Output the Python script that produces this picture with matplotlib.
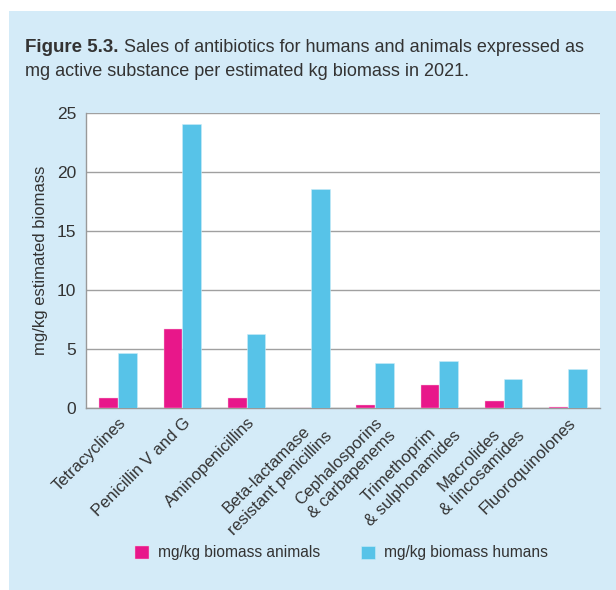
import numpy as np
import matplotlib.pyplot as plt
from matplotlib.patches import Rectangle

plt.rcParams['font.family'] = ['Liberation Sans', 'DejaVu Sans']

categories = ["Tetracyclines", "Penicillin V and G", "Aminopenicillins",
              "Beta-lactamase\nresistant penicillins", "Cephalosporins\n& carbapenems",
              "Trimethoprim\n& sulphonamides", "Macrolides\n& lincosamides",
              "Fluoroquinolones"]
animals = [0.87, 6.67, 0.87, 0.0, 0.23, 1.94, 0.56, 0.11]
humans = [4.63, 24.1, 6.24, 18.6, 3.85, 3.96, 2.47, 3.31]
yticks = [0, 5, 10, 15, 20, 25]

pink = '#e8178a'
blue = '#57c3e8'
bg = '#d4ebf8'
txt = '#333333'

fig = plt.figure(figsize=(6.16, 5.9), dpi=100)
fig.patches.append(Rectangle((9/616, 0), 1, 1 - 11/590, transform=fig.transFigure,
                             facecolor=bg, edgecolor='none', zorder=-1))

# title: bold part then normal text right after it
t1 = fig.text(25/616, 1 - 47/590, "Figure 5.3.", fontsize=13.5, fontweight='bold',
              color=txt, va='center', family=['Liberation Sans Narrow', 'Liberation Sans'])
fig.canvas.draw()
bb = t1.get_window_extent()
fig.text((bb.x1 + 5)/616, 1 - 47/590, "Sales of antibiotics for humans and animals expressed as",
         fontsize=13, color=txt, va='center')
fig.text(25/616, 1 - 71/590, "mg active substance per estimated kg biomass in 2021.",
         fontsize=13, color=txt, va='center')

ax = fig.add_axes([86/616, 1 - 408/590, (600 - 86)/616, (408 - 113)/590])
ax.set_facecolor('white')

x = np.arange(len(categories))
w = 0.29
ax.bar(x - w/2, animals, w, color=pink, edgecolor='#f7c6df', linewidth=0.3,
       label='mg/kg biomass animals', zorder=3)
ax.bar(x + w/2, humans, w, color=blue, edgecolor='#c9ecf8', linewidth=0.4,
       label='mg/kg biomass humans', zorder=3)

ax.set_xlim(-0.5, len(categories) - 0.5)
ax.set_ylim(0, 25)
ax.set_yticks(yticks)
ax.set_yticklabels([str(t) for t in yticks], fontsize=12.5, color=txt)
ax.yaxis.grid(True, color='#a0a0a0', linewidth=1.0, zorder=0)
ax.tick_params(axis='y', length=0, pad=7)
ax.tick_params(axis='x', length=0, pad=5)
ax.set_xticks(x)
ax.set_xticklabels(categories, rotation=45, ha='right', rotation_mode='anchor',
                   fontsize=12, color=txt, multialignment='center', linespacing=1.3)

for s in ['top', 'right']:
    ax.spines[s].set_visible(False)
for s in ['left', 'bottom']:
    ax.spines[s].set_color('#999999')
    ax.spines[s].set_linewidth(1.0)

ax.set_ylabel("mg/kg estimated biomass", fontsize=12, color=txt, labelpad=6)

leg = fig.legend(loc='center', bbox_to_anchor=(0.554, 1 - 553/590), ncol=2,
                 frameon=False, fontsize=11.2, handlelength=0.9, handleheight=0.9,
                 columnspacing=2.6, handletextpad=0.6)
for t in leg.get_texts():
    t.set_color(txt)

fig.savefig('out.png', dpi=100)
